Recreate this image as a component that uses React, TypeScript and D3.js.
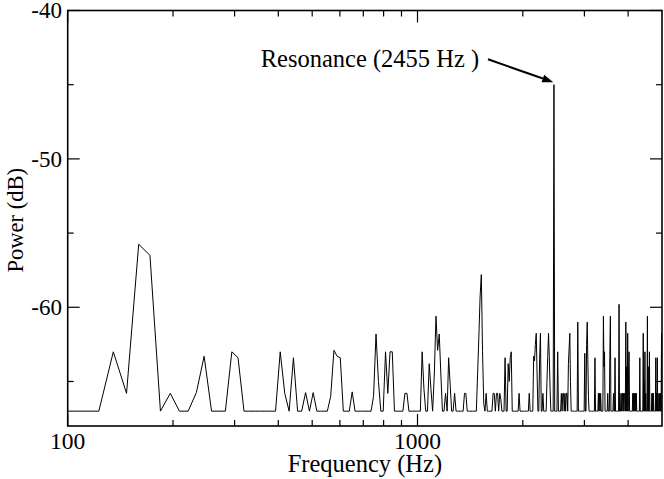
import React, { useEffect } from 'react';
import * as d3 from 'd3';

// ---- data ----
const BIN_HZ = 12.275; // spectral bin spacing
const FIRST_BIN = 8;
const LAST_BIN = 408;
const FLOOR_DB = -67; // noise floor level of every bin not listed below

const peakBins = [
  11, 12, 13, 14, 16, 19, 20, 24, 25, 33, 34, 36, 39, 41, 46, 47, 48, 49, 53,
  61, 62, 63, 66, 67, 68, 69, 75, 76, 84, 85, 88, 89, 91, 92, 93, 94, 95, 98,
  100, 101, 104, 111, 112, 121, 122, 123, 124, 125, 126, 128, 134, 135, 137,
  138, 140, 141, 145, 148, 149, 150, 151, 159, 170, 175, 176, 177, 178, 179,
  182, 183, 186, 191, 192, 193, 194, 195, 200, 205, 210, 212, 213, 215, 217,
  218, 220, 221, 222, 223, 234, 245, 248, 249, 250, 251, 262, 268, 270, 272,
  277, 278, 279, 285, 289, 290, 296, 299, 307, 311, 313, 314, 316, 318, 319,
  321, 323, 325, 327, 328, 336, 338, 340, 342, 344, 352, 360, 362, 364, 366,
  370, 372, 375, 381, 383, 385, 391, 393, 395, 397, 401, 403, 406, 407,
];
const peakDb = [
  -63.0, -65.8, -55.75, -56.5, -65.8, -65.75, -63.3, -63.0, -63.4, -63.0, -65.8, -63.4, -65.75, -65.75, -66.0, -62.9, -63.3, -63.4, -65.7,
  -66.0, -61.8, -65.0, -63.0, -65.8, -63.0, -63.0, -65.8, -65.8, -63.0, -65.5, -63.8, -65.5, -64.5, -60.6, -62.9, -61.8, -64.5, -65.8,
  -63.4, -65.2, -65.8, -65.8, -65.8, -64.5, -62.0, -59.3, -57.8, -63.0, -66.5, -65.8, -65.8, -65.8, -65.8,
  -65.8, -65.8, -66.2, -63.4, -63.8, -65.0, -63.4, -63.0, -65.8, -65.8, -63.3, -63.6, -62.5, -61.75, -64.5,
  -63.5, -61.75, -65.8, -65.0, -63.3, -61.75, -63.4, -65.5, -45.0, -63.0, -65.8, -65.8, -65.8, -65.8, -65.8,
  -65.8, -63.8, -62.8, -61.75, -65.0, -61.0, -63.1, -62.5, -61.0, -63.5, -66.0, -63.4, -65.8, -65.8, -65.8,
  -60.6, -64.0, -63.0, -65.8, -63.0, -60.6, -65.8, -63.4, -59.8, -65.8, -65.8, -65.8, -65.8, -65.8, -65.8,
  -61.0, -64.0, -61.75, -64.0, -63.0, -65.8, -65.8, -65.8, -65.8, -65.8, -63.4, -61.75, -65.0, -63.0, -65.8,
  -60.6, -64.0, -63.0, -65.8, -65.8, -65.8, -63.4, -65.8, -63.4, -65.8, -65.8, -65.8, -61.75, -61.8,
];

const X_DOMAIN = [100, 5000];
const Y_DOMAIN = [-68, -40];
const xMajorTicks = [100, 1000];
const xMinorTicks = [200, 300, 400, 500, 600, 700, 800, 900, 2000, 3000, 4000];
const yMajorTicks = [-40, -50, -60];
const yMinorTicks = [-45, -55, -65];

const RESONANCE_HZ = 2455;
const RESONANCE_DB = -45;
const annotationText = 'Resonance (2455 Hz )';
const xLabel = 'Frequency (Hz)';
const yLabel = 'Power (dB)';

// ---- layout ----
const W = 664;
const H = 479;
const L = 67.7;
const R = 662;
const T = 10.5;
const B = 426;
const FONT = '"Liberation Serif", "Times New Roman", serif';

export default function App() {
  useEffect(() => {
    document.body.style.margin = '0';
  }, []);

  const x = d3.scaleLog().domain(X_DOMAIN).range([L, R]);
  const y = d3.scaleLinear().domain(Y_DOMAIN).range([B, T]);

  const dbByBin = new Map<number, number>();
  peakBins.forEach((b, i) => dbByBin.set(b, peakDb[i]));
  const series: [number, number][] = [];
  for (let k = FIRST_BIN; k <= LAST_BIN; k++) {
    series.push([k * BIN_HZ, dbByBin.has(k) ? (dbByBin.get(k) as number) : FLOOR_DB]);
  }
  const line = d3
    .line<[number, number]>()
    .x((d) => x(d[0]))
    .y((d) => y(d[1]));

  const MAJ = 12;
  const MIN = 6;

  // annotation arrow
  const tipX = x(RESONANCE_HZ) - 0.7;
  const tipY = y(RESONANCE_DB) - 2.5;
  const startX = 488;
  const startY = 59.3;
  const ang = Math.atan2(tipY - startY, tipX - startX);
  const headLen = 11;
  const headW = 4;
  const bx = tipX - headLen * Math.cos(ang);
  const by = tipY - headLen * Math.sin(ang);
  const px = -Math.sin(ang);
  const py = Math.cos(ang);
  const head = `${tipX},${tipY} ${bx + px * headW},${by + py * headW} ${bx - px * headW},${by - py * headW}`;

  return (
    <div style={{ position: 'absolute', left: 0, top: 0 }}>
      <svg width={W} height={H} style={{ display: 'block', background: '#fff' }} fontFamily={FONT}>
        <defs>
          <clipPath id="plotClip">
            <rect x={L} y={T} width={R - L} height={B - T} />
          </clipPath>
        </defs>
        <rect x={0} y={0} width={W} height={H} fill="#fff" />
        <path d={line(series) || ''} fill="none" stroke="#000" strokeWidth={1} clipPath="url(#plotClip)" />

        {/* frame */}
        <rect x={L} y={T} width={R - L} height={B - T} fill="none" stroke="#000" strokeWidth={1.6} />

        {/* x ticks (bottom & top) */}
        {xMajorTicks.map((t) => (
          <g key={'xM' + t}>
            <line x1={x(t)} x2={x(t)} y1={B} y2={B - MAJ} stroke="#000" strokeWidth={1.2} />
            <line x1={x(t)} x2={x(t)} y1={T} y2={T + MAJ} stroke="#000" strokeWidth={1.2} />
            <text x={x(t)} y={448.5} fontSize={23.5} textAnchor="middle" fill="#000">
              {t}
            </text>
          </g>
        ))}
        {xMinorTicks.map((t) => (
          <g key={'xm' + t}>
            <line x1={x(t)} x2={x(t)} y1={B} y2={B - MIN} stroke="#000" strokeWidth={1.2} />
            <line x1={x(t)} x2={x(t)} y1={T} y2={T + MIN} stroke="#000" strokeWidth={1.2} />
          </g>
        ))}

        {/* y ticks (left & right) */}
        {yMajorTicks.map((t) => (
          <g key={'yM' + t}>
            <line x1={L} x2={L + MAJ} y1={y(t)} y2={y(t)} stroke="#000" strokeWidth={1.2} />
            <line x1={R} x2={R - MAJ} y1={y(t)} y2={y(t)} stroke="#000" strokeWidth={1.2} />
            <text x={62} y={y(t) + 7.8} fontSize={23} textAnchor="end" fill="#000">
              {t}
            </text>
          </g>
        ))}
        {yMinorTicks.map((t) => (
          <g key={'ym' + t}>
            <line x1={L} x2={L + MIN} y1={y(t)} y2={y(t)} stroke="#000" strokeWidth={1.2} />
            <line x1={R} x2={R - MIN} y1={y(t)} y2={y(t)} stroke="#000" strokeWidth={1.2} />
          </g>
        ))}

        {/* axis labels */}
        <text x={(L + R) / 2} y={472} fontSize={24.5} textAnchor="middle" fill="#000">
          {xLabel}
        </text>
        <text
          transform={`translate(23, ${(T + B) / 2 + 2}) rotate(-90)`}
          fontSize={22.5}
          textAnchor="middle"
          fill="#000"
        >
          {yLabel}
        </text>

        {/* annotation */}
        <text x={260.7} y={67.3} fontSize={24.5} fill="#000">
          {annotationText}
        </text>
        <line x1={startX} y1={startY} x2={bx} y2={by} stroke="#000" strokeWidth={2} />
        <polygon points={head} fill="#000" />
      </svg>
    </div>
  );
}
